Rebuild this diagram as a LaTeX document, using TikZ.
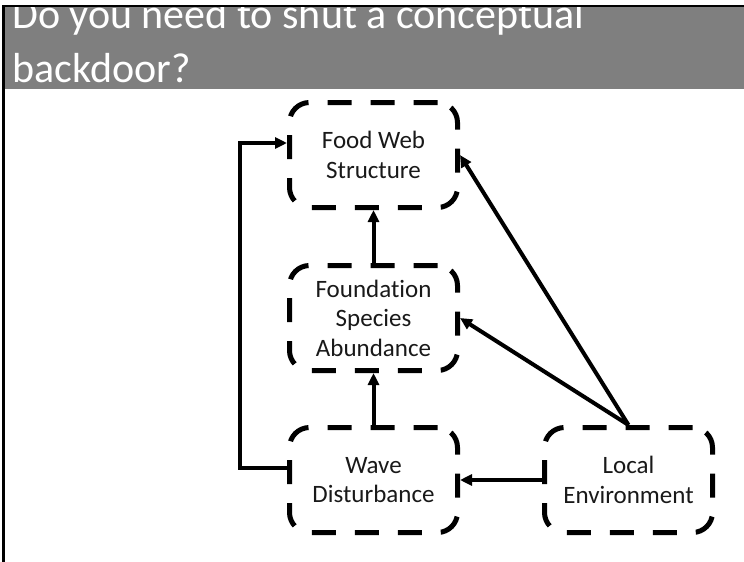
\documentclass[tikz,border=0pt]{standalone}
\usepackage{fontspec}
\usetikzlibrary{positioning,arrows.meta}
\newfontfamily\headfont{Carlito}[Ligatures=NoCommon]
\newfontfamily\labelfont{Carlito}[Ligatures=NoCommon]
\definecolor{headgray}{HTML}{7F7F7F}
\tikzstyle{dashbox} = [draw=black, line width=5pt, dash pattern=on 24pt off 19pt,
    rectangle, rounded corners=20pt, minimum width=168pt, minimum height=105pt,
    inner sep=0pt, align=center, text=black!90, font=\labelfont\fontsize{25}{29.5}\selectfont]
\tikzstyle{link} = [line width=4pt, -{Triangle[length=12pt,width=11pt]}]
\tikzstyle{headline} = [text=white, inner sep=0pt, anchor=base west,
    font=\headfont\fontsize{42}{54}\selectfont]

\begin{document}
\begin{tikzpicture}[x=1pt,y=1pt]
    \useasboundingbox (0,0) rectangle (744,-562);
    % title band
    \fill[headgray] (5,-7) rectangle (744,-89);
    \begin{scope}
        \clip (5,-7) rectangle (744,-89);
        \node[headline] (head1) at (12,-28) {Do you need to shut a conceptual};
        \node[headline] (head2) at ([yshift=-54pt]head1.base west) {backdoor?};
    \end{scope}
    \draw[line width=2pt] (2,-6) -- (744,-6);
    \draw[line width=3pt] (3.5,-5) -- (3.5,-562);

    \node[dashbox] (food) at (373.5,-155) {Food Web\\Structure};
    \node[dashbox, below=53pt of food] (found) {Foundation\\Species\\Abundance};
    \node[dashbox, below=52pt of found] (wave) {Wave\\Disturbance};
    \node[dashbox, right=82pt of wave] (local) {Local\\Environment};

    \draw[link] (found.north) -- (food.south);
    \draw[link] (wave.north) -- (found.south);
    \draw[link] (local.west) -- (wave.east);
    \draw[link] (local.north) -- (food.east);
    \draw[link] (local.north) -- (found.east);
    \draw[link] ([yshift=12pt]wave.west) -- ++(-47pt,0) |- ([yshift=12pt]food.west);
\end{tikzpicture}
\end{document}
